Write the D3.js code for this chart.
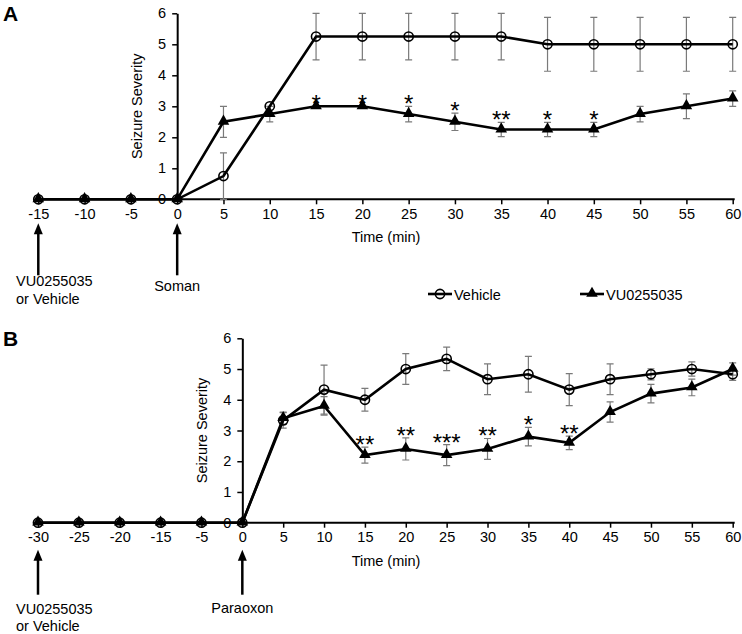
<!DOCTYPE html>
<html>
<head>
<meta charset="utf-8">
<script src="https://cdn.jsdelivr.net/npm/d3@7"></script>
<style>
  body { margin: 0; background: #fff; }
  svg text { font-family: "Liberation Sans", Arial, sans-serif; fill: #000; }
</style>
</head>
<body>
<svg id="chart" width="742" height="634"></svg>
<script>
// panel A : soman
var catsA = [-15, -10, -5, 0, 5, 10, 15, 20, 25, 30, 35, 40, 45, 50, 55, 60];
var vehA = [0, 0, 0, 0, 0.75, 3, 5.25, 5.25, 5.25, 5.25, 5.25, 5, 5, 5, 5, 5];
var vehAErr = [0, 0, 0, 0, 0.75, 0, 0.75, 0.75, 0.75, 0.75, 0.75, 0.87, 0.87, 0.87, 0.87, 0.87];
var vuA = [0, 0, 0, 0, 2.5, 2.75, 3, 3, 2.75, 2.5, 2.25, 2.25, 2.25, 2.75, 3, 3.25];
var vuAErr = [0, 0, 0, 0, 0.5, 0.25, 0, 0, 0.25, 0.28, 0.23, 0.23, 0.23, 0.25, 0.4, 0.25];
var starsA = ["", "", "", "", "", "", "*", "*", "*", "*", "**", "*", "*", "", "", ""];

// panel B : paraoxon
var catsB = [-30, -25, -20, -15, -5, 0, 5, 10, 15, 20, 25, 30, 35, 40, 45, 50, 55, 60];
var vehB = [0, 0, 0, 0, 0, 0, 3.33, 4.33, 4, 5, 5.33, 4.67, 4.83, 4.33, 4.67, 4.83, 5, 4.83];
var vehBErr = [0, 0, 0, 0, 0, 0, 0.25, 0.8, 0.37, 0.5, 0.38, 0.5, 0.58, 0.52, 0.5, 0.18, 0.23, 0.2];
var vuB = [0, 0, 0, 0, 0, 0, 3.4, 3.8, 2.2, 2.4, 2.2, 2.4, 2.8, 2.6, 3.6, 4.2, 4.4, 5];
var vuBErr = [0, 0, 0, 0, 0, 0, 0.2, 0.3, 0.26, 0.36, 0.34, 0.34, 0.3, 0.22, 0.33, 0.3, 0.27, 0.2];
var starsB = ["", "", "", "", "", "", "", "", "**", "**", "***", "**", "*", "**", "", "", "", ""];

var yTicks = [0, 1, 2, 3, 4, 5, 6];
var seriesNames = ["Vehicle", "VU0255035"];

var svg = d3.select("#chart");
var tri = d3.symbol().type(d3.symbolTriangle).size(58);

function drawPanel(p) {
  var g = svg.append("g");
  var x = d3.scalePoint().domain(p.cats).range(p.xr);
  var y = d3.scaleLinear().domain([0, 6]).range(p.yr);
  var x0 = x(0);

  // panel letter
  g.append("text").attr("x", 3).attr("y", p.yr[1] + 8)
    .style("font-size", "21px").style("font-weight", "bold").text(p.letter);

  // x axis
  var xAxis = d3.axisBottom(x).tickSize(5).tickSizeOuter(0).tickPadding(4);
  var gx = g.append("g").attr("transform", "translate(0," + y(0) + ")").call(xAxis);
  gx.select(".domain").attr("stroke", "#000").attr("stroke-width", 2)
    .attr("d", "M" + p.xr[0] + ",0H" + (p.xr[1] + 2));
  gx.selectAll(".tick line").attr("stroke-width", 1.5);
  gx.selectAll(".tick text").style("font-size", "14.5px")
    .style("font-family", "'Liberation Sans', Arial, sans-serif");

  // y axis
  var yAxis = d3.axisLeft(y).tickValues(yTicks).tickFormat(d3.format("d"))
    .tickSize(5).tickSizeOuter(0).tickPadding(6);
  var gy = g.append("g").attr("transform", "translate(" + x0 + ",0)").call(yAxis);
  gy.select(".domain").attr("stroke", "#000").attr("stroke-width", 2);
  gy.selectAll(".tick line").attr("stroke-width", 1.5);
  gy.selectAll(".tick text").style("font-size", "14.5px")
    .style("font-family", "'Liberation Sans', Arial, sans-serif");

  g.append("text")
    .attr("transform", "translate(" + (x0 - 35) + "," + ((p.yr[0] + p.yr[1]) / 2) + ") rotate(-90)")
    .attr("text-anchor", "middle").style("font-size", "14.5px").text("Seizure Severity");

  g.append("text").attr("x", 386).attr("y", y(0) + 43)
    .attr("text-anchor", "middle").style("font-size", "14.5px").text("Time (min)");

  // error bars
  var sets = [[p.veh, p.vehErr], [p.vu, p.vuErr]];
  sets.forEach(function (s) {
    p.cats.forEach(function (c, i) {
      if (!s[1][i]) return;
      var xc = x(c), top = y(s[0][i] + s[1][i]), bot = y(Math.max(0, s[0][i] - s[1][i]));
      g.append("path")
        .attr("d", "M" + xc + "," + top + "V" + bot + "M" + (xc - 3.5) + "," + top + "H" + (xc + 3.5) +
          "M" + (xc - 3.5) + "," + bot + "H" + (xc + 3.5))
        .attr("stroke", "#7a7a7a").attr("stroke-width", 1.2).attr("fill", "none");
    });
  });

  var line = d3.line().x(function (d, i) { return x(p.cats[i]); }).y(function (d) { return y(d); });
  g.append("path").datum(p.veh).attr("d", line)
    .attr("fill", "none").attr("stroke", "#000").attr("stroke-width", 2.6);
  g.append("path").datum(p.vu).attr("d", line)
    .attr("fill", "none").attr("stroke", "#000").attr("stroke-width", 2.6);

  g.selectAll(".veh").data(p.veh).enter().append("circle")
    .attr("cx", function (d, i) { return x(p.cats[i]); })
    .attr("cy", function (d) { return y(d); })
    .attr("r", 4.6).attr("fill", "none").attr("stroke", "#000").attr("stroke-width", 1.6);

  g.selectAll(".vu").data(p.vu).enter().append("path")
    .attr("d", tri)
    .attr("transform", function (d, i) { return "translate(" + x(p.cats[i]) + "," + (y(d) - 0.5) + ")"; })
    .attr("fill", "#000");

  // significance stars
  p.cats.forEach(function (c, i) {
    if (!p.stars[i]) return;
    g.append("text").attr("x", x(c)).attr("y", y(p.vu[i] + p.vuErr[i]) + 6)
      .attr("text-anchor", "middle").style("font-size", "24px").text(p.stars[i]);
  });

  // arrows
  [[p.cats[0], p.arrowText], [0, [p.agent]]].forEach(function (a, k) {
    var xa = x(a[0]), tip = y(0) + p.arrowTop, base = y(0) + p.arrowBot;
    g.append("path").attr("d", "M" + xa + "," + base + "V" + (tip + 8))
      .attr("stroke", "#000").attr("stroke-width", 2.5);
    g.append("path").attr("d", "M" + xa + "," + tip + "L" + (xa - 4.5) + "," + (tip + 11) + "L" + (xa + 4.5) + "," + (tip + 11) + "Z")
      .attr("fill", "#000");
    var t = g.append("text").style("font-size", "14.5px");
    if (k === 0) {
      t.attr("x", 16).attr("y", y(0) + p.textY);
      a[1].forEach(function (s, j) {
        t.append("tspan").attr("x", 16).attr("dy", j === 0 ? 0 : 17.5).text(s);
      });
    } else {
      t.attr("x", xa).attr("y", y(0) + p.agentY).attr("text-anchor", "middle").text(a[1][0]);
    }
  });
}

drawPanel({
  letter: "A", cats: catsA, xr: [38.3, 732.7], yr: [199.3, 13.3],
  veh: vehA, vehErr: vehAErr, vu: vuA, vuErr: vuAErr, stars: starsA,
  arrowTop: 24, arrowBot: 76, textY: 87, agentY: 92,
  arrowText: ["VU0255035", "or Vehicle"], agent: "Soman"
});
drawPanel({
  letter: "B", cats: catsB, xr: [38, 732.7], yr: [522.7, 338.3],
  veh: vehB, vehErr: vehBErr, vu: vuB, vuErr: vuBErr, stars: starsB,
  arrowTop: 27, arrowBot: 72, textY: 91, agentY: 90,
  arrowText: ["VU0255035", "or Vehicle"], agent: "Paraoxon"
});

// legend (panel A)
var lg = svg.append("g").attr("transform", "translate(0,294)");
[[428, 0], [580, 1]].forEach(function (l) {
  lg.append("path").attr("d", "M" + l[0] + ",0H" + (l[0] + 24))
    .attr("stroke", "#000").attr("stroke-width", 2.6);
  if (l[1] === 0) {
    lg.append("circle").attr("cx", l[0] + 12).attr("cy", 0).attr("r", 4.6)
      .attr("fill", "none").attr("stroke", "#000").attr("stroke-width", 1.6);
  } else {
    lg.append("path").attr("d", tri).attr("transform", "translate(" + (l[0] + 12) + ",-0.5)").attr("fill", "#000");
  }
  lg.append("text").attr("x", l[0] + 26).attr("y", 5.5).style("font-size", "14.5px").text(seriesNames[l[1]]);
});
</script>
</body>
</html>
